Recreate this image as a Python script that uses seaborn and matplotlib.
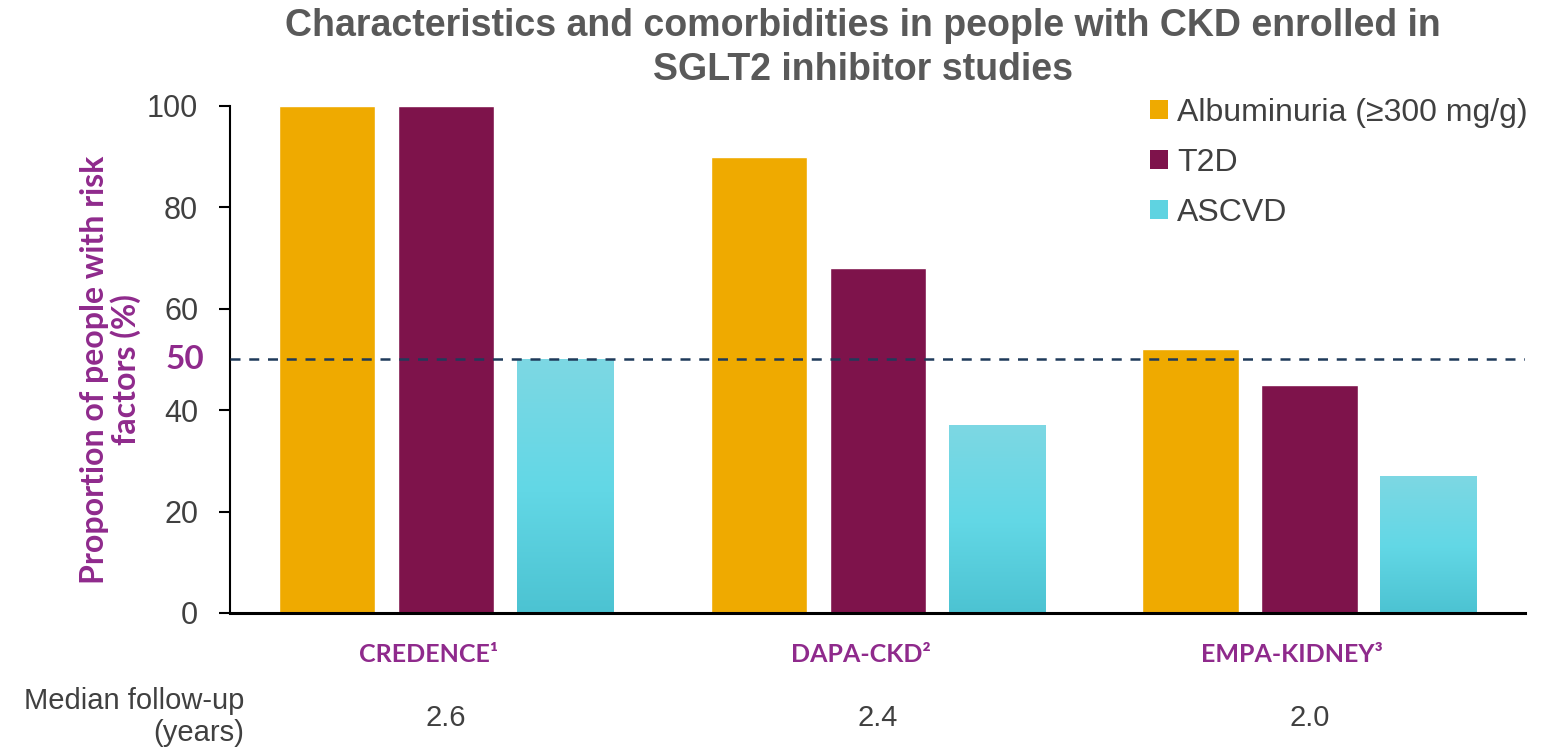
import numpy as np
import pandas as pd
import matplotlib
matplotlib.use("Agg")
import matplotlib.pyplot as plt
from matplotlib.colors import LinearSegmentedColormap
from matplotlib.patches import Patch
import matplotlib.transforms as mtransforms
import seaborn as sns

# ---- data ----
studies = ["CREDENCE¹", "DAPA-CKD²", "EMPA-KIDNEY³"]
factors = ["Albuminuria (≥300 mg/g)", "T2D", "ASCVD"]
albuminuria = [100, 90, 52]
t2d = [100, 68, 45]
ascvd = [50, 37, 27]
follow_up = ["2.6", "2.4", "2.0"]
y_ticks = [0, 20, 40, 60, 80, 100]
reference_level = 50

df = pd.DataFrame({
    "study": studies * 3,
    "factor": [factors[0]] * 3 + [factors[1]] * 3 + [factors[2]] * 3,
    "value": albuminuria + t2d + ascvd,
})

gold = "#EFAA00"
plum = "#7E134B"
teal = "#5FD3E1"
purple = "#8F2A8C"
gray = "#404040"
title_gray = "#595959"
accent_font = ["Lato", "DejaVu Sans"]

sns.set_theme(style="white")
plt.rcParams["font.family"] = ["Liberation Sans", "DejaVu Sans"]

fig = plt.figure(figsize=(15.55, 7.5), dpi=100)
ax = fig.add_axes([0.148, 0.1827, 0.833, 0.676])

sns.barplot(data=df, x="study", y="value", hue="factor", order=studies,
            hue_order=factors, palette=[gold, plum, teal], width=0.827,
            gap=0.19, saturation=1, ax=ax, legend=False)

# vertical gradient fill on the ASCVD bars
grad = LinearSegmentedColormap.from_list(
    "teal_grad", ["#4CC3D2", "#63D8E6", "#7DD7E3"])
gimg = np.linspace(0, 1, 256).reshape(-1, 1)
for bar in ax.containers[2]:
    x0, w, h = bar.get_x(), bar.get_width(), bar.get_height()
    im = ax.imshow(gimg, cmap=grad, origin="lower", aspect="auto",
                   extent=[x0, x0 + w, 0, h], zorder=bar.get_zorder() + 0.1)
    im.set_clip_path(bar)

ax.set_xlim(-0.5, 2.5)
ax.set_ylim(0, 100)

# dashed 50% reference line
ax.axhline(reference_level, color="#1F3A5A", lw=1.8, ls=(0, (4, 3.5)), zorder=5)

# axes styling
sns.despine(ax=ax)
ax.spines["left"].set_color("black")
ax.spines["left"].set_linewidth(1.5)
ax.spines["bottom"].set_color("black")
ax.spines["bottom"].set_linewidth(2.2)
ax.set_yticks(y_ticks)
ax.set_yticklabels([str(t) for t in y_ticks], fontsize=22, color=gray)
ax.tick_params(axis="y", direction="out", length=8, width=1.5, color="black",
               left=True, pad=15)
ax.tick_params(axis="x", bottom=False, labelbottom=False)
ax.set_xlabel("")
ax.set_ylabel("Proportion of people with risk\nfactors (%)", fontsize=23,
              color=purple, fontweight="bold", family=accent_font,
              linespacing=1.05)
ax.yaxis.set_label_coords(-0.069, 0.48)

# bold "50" marker at the reference level
trans_y = mtransforms.blended_transform_factory(fig.transFigure, ax.transData)
ax.text(204 / 1555, reference_level, "50", transform=trans_y, ha="right",
        va="center", fontsize=24, fontweight="bold", color=purple,
        family=accent_font)

# study names and follow-up values beneath each group
trans_x = mtransforms.blended_transform_factory(ax.transData, fig.transFigure)
for i, (name, fu) in enumerate(zip(studies, follow_up)):
    ax.text(i - 0.04, 1 - 655 / 750, name, transform=trans_x, ha="center",
            va="center", fontsize=18, fontweight="bold", color=purple,
            family=accent_font)
    ax.text(i, 1 - 718 / 750, fu, transform=trans_x, ha="center",
            va="center", fontsize=21, color=gray)

fig.text(244 / 1555, 1 - 717 / 750, "Median follow-up\n(years)", ha="right",
         va="center", fontsize=21, color=gray, linespacing=1.15)

# title
fig.text(0.555, 1 - 48 / 750,
         "Characteristics and comorbidities in people with CKD enrolled in\nSGLT2 inhibitor studies",
         ha="center", va="center", fontsize=27, fontweight="bold",
         color=title_gray, linespacing=1.3)

# legend
handles = [Patch(facecolor=c, edgecolor="none") for c in [gold, plum, teal]]
leg = ax.legend(handles, factors, loc="upper left",
                bbox_to_anchor=(1150 / 1555, 1 - 98 / 750),
                bbox_transform=fig.transFigure, frameon=False, fontsize=23,
                handlelength=0.55, handleheight=0.55, handletextpad=0.3,
                labelspacing=0.62, borderaxespad=0, borderpad=0)
for t in leg.get_texts():
    t.set_color(gray)

fig.savefig("out.png", dpi=100)
